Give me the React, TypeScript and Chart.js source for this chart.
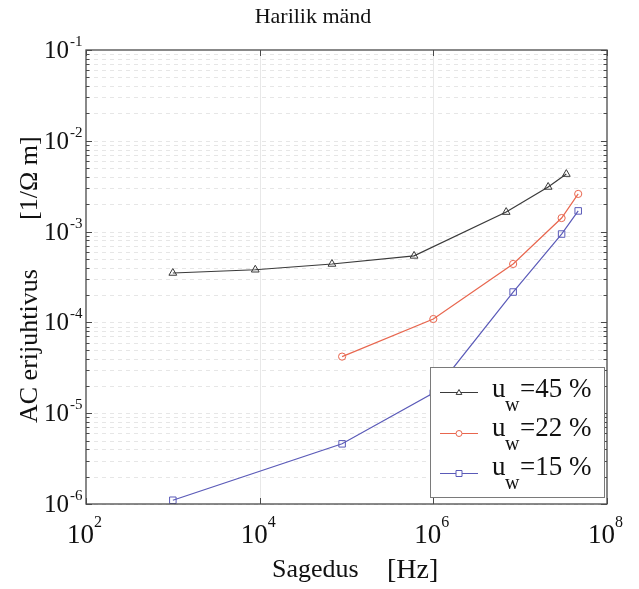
import React, { useEffect, useRef } from "react";
import { Chart, registerables } from "chart.js";

Chart.register(...registerables);

const titleText = "Harilik mänd";
const xTitleMain = "Sagedus";
const xTitleUnit = "[Hz]";
const yTitleMain = "AC erijuhtivus";
const yTitleUnit = "[1/Ω m]";

const freq45 = [1e3, 8.9e3, 6.8e4, 6.0e5, 6.9e6, 2.1e7, 3.4e7];
const cond45 = [3.5e-4, 3.8e-4, 4.4e-4, 5.4e-4, 1.64e-3, 3.1e-3, 4.3e-3];
const freq22 = [8.9e4, 1.0e6, 8.3e6, 3.0e7, 4.66e7];
const cond22 = [4.2e-5, 1.09e-4, 4.4e-4, 1.41e-3, 2.6e-3];
const freq15 = [1e3, 8.9e4, 1.0e6, 8.3e6, 3.0e7, 4.66e7];
const cond15 = [1.1e-6, 4.6e-6, 1.67e-5, 2.16e-4, 9.4e-4, 1.69e-3];

const seriesLabels = ["=45 %", "=22 %", "=15 %"];
const seriesColors = ["#3a3a3a", "#e8664e", "#5a5ab8"];
const seriesMarkers = ["triangle", "circle", "rect"];

const xTickValues = [1e2, 1e4, 1e6, 1e8];
const xTickExps = ["2", "4", "6", "8"];
const yTickValues = [1e-6, 1e-5, 1e-4, 1e-3, 1e-2, 1e-1];
const yTickExps = ["-6", "-5", "-4", "-3", "-2", "-1"];
const minorMultipliers = [2, 3, 4, 5, 6, 7, 8, 9];

const SERIF = '"Liberation Serif", "DejaVu Serif", "Times New Roman", serif';

function toPoints(xs: number[], ys: number[]) {
  return xs.map((x, i) => ({ x, y: ys[i] }));
}

function drawMarker(ctx: CanvasRenderingContext2D, kind: string, x: number, y: number, r: number) {
  ctx.beginPath();
  if (kind === "triangle") {
    ctx.moveTo(x, y - r);
    ctx.lineTo(x + r * 0.95, y + r * 0.65);
    ctx.lineTo(x - r * 0.95, y + r * 0.65);
    ctx.closePath();
  } else if (kind === "circle") {
    ctx.arc(x, y, r, 0, Math.PI * 2);
  } else {
    ctx.rect(x - r, y - r, 2 * r, 2 * r);
  }
  ctx.fillStyle = "#ffffff";
  ctx.fill();
  ctx.stroke();
}

const decorPlugin = {
  id: "decor",
  beforeDatasetsDraw(chart: any) {
    const ctx = chart.ctx as CanvasRenderingContext2D;
    const area = chart.chartArea;
    const xs = chart.scales.x;
    const ys = chart.scales.y;
    ctx.save();
    ctx.lineWidth = 1;
    ctx.strokeStyle = "#e6e6e6";
    ctx.setLineDash([4, 4]);
    for (let i = 0; i < yTickValues.length - 1; i++) {
      const base = yTickValues[i];
      [1, ...minorMultipliers].forEach((m) => {
        const py = Math.round(ys.getPixelForValue(base * m)) + 0.5;
        ctx.beginPath();
        ctx.moveTo(area.left, py);
        ctx.lineTo(area.right, py);
        ctx.stroke();
      });
    }
    ctx.setLineDash([]);
    ctx.strokeStyle = "#e8e8e8";
    xTickValues.slice(1, -1).forEach((v) => {
      const px = Math.round(xs.getPixelForValue(v)) + 0.5;
      ctx.beginPath();
      ctx.moveTo(px, area.top);
      ctx.lineTo(px, area.bottom);
      ctx.stroke();
    });
    ctx.restore();
  },
  afterDatasetsDraw(chart: any) {
    const ctx = chart.ctx as CanvasRenderingContext2D;
    const area = chart.chartArea;
    const xs = chart.scales.x;
    const ys = chart.scales.y;
    ctx.save();

    ctx.strokeStyle = "#4a4a4a";
    ctx.lineWidth = 1.3;
    ctx.strokeRect(area.left, area.top, area.right - area.left, area.bottom - area.top);

    ctx.lineWidth = 1;
    for (let i = 0; i < yTickValues.length; i++) {
      const base = yTickValues[i];
      const mults = i < yTickValues.length - 1 ? [1, ...minorMultipliers] : [1];
      mults.forEach((m) => {
        const py = Math.round(ys.getPixelForValue(base * m)) + 0.5;
        const len = m === 1 ? 6 : 3.5;
        ctx.beginPath();
        ctx.moveTo(area.left, py);
        ctx.lineTo(area.left + len, py);
        ctx.moveTo(area.right, py);
        ctx.lineTo(area.right - len, py);
        ctx.stroke();
      });
    }
    xTickValues.forEach((v) => {
      const px = Math.round(xs.getPixelForValue(v)) + 0.5;
      ctx.beginPath();
      ctx.moveTo(px, area.top);
      ctx.lineTo(px, area.top + 6);
      ctx.moveTo(px, area.bottom);
      ctx.lineTo(px, area.bottom - 6);
      ctx.stroke();
    });

    const lx = 430, ly = 367, lw = 174, lh = 130;
    ctx.fillStyle = "#ffffff";
    ctx.fillRect(lx, ly, lw, lh);
    ctx.strokeStyle = "#7a7a7a";
    ctx.lineWidth = 1;
    ctx.strokeRect(lx + 0.5, ly + 0.5, lw, lh);
    const rowLine = [392, 433, 473];
    const rowBase = [397, 436, 475];
    seriesLabels.forEach((lab, i) => {
      ctx.strokeStyle = seriesColors[i];
      ctx.lineWidth = 1;
      ctx.beginPath();
      ctx.moveTo(440, rowLine[i] + 0.5);
      ctx.lineTo(478, rowLine[i] + 0.5);
      ctx.stroke();
      drawMarker(ctx, seriesMarkers[i], 459, rowLine[i] + 0.5, 3);
      ctx.fillStyle = "#111111";
      ctx.textAlign = "left";
      ctx.textBaseline = "alphabetic";
      ctx.font = `27px ${SERIF}`;
      ctx.fillText("u", 492, rowBase[i]);
      ctx.font = `20px ${SERIF}`;
      ctx.fillText("w", 505, rowBase[i] + 14);
      ctx.font = `27px ${SERIF}`;
      ctx.fillText(lab, 520, rowBase[i]);
    });

    ctx.restore();
  },
  afterDraw(chart: any) {
    const ctx = chart.ctx as CanvasRenderingContext2D;
    const xs = chart.scales.x;
    const ys = chart.scales.y;
    ctx.save();
    ctx.fillStyle = "#111111";
    ctx.textBaseline = "alphabetic";

    yTickValues.forEach((v, i) => {
      const py = ys.getPixelForValue(v);
      ctx.font = `25px ${SERIF}`;
      ctx.textAlign = "right";
      ctx.fillText("10", 69, py + 8);
      ctx.font = `15px ${SERIF}`;
      ctx.textAlign = "left";
      ctx.fillText(yTickExps[i], 70, py - 4);
    });
    xTickValues.forEach((v, i) => {
      const px = xs.getPixelForValue(v);
      ctx.font = `27px ${SERIF}`;
      ctx.textAlign = "right";
      ctx.fillText("10", px + 8, 543);
      ctx.font = `16px ${SERIF}`;
      ctx.textAlign = "left";
      ctx.fillText(xTickExps[i], px + 8, 527);
    });

    ctx.font = `22px ${SERIF}`;
    ctx.textAlign = "center";
    ctx.fillText(titleText, 313, 23);

    ctx.textAlign = "left";
    ctx.font = `26px ${SERIF}`;
    ctx.fillText(xTitleMain, 272, 577);
    ctx.font = `28px ${SERIF}`;
    ctx.fillText(xTitleUnit, 387, 578);

    ctx.font = `26px ${SERIF}`;
    ctx.save();
    ctx.translate(37, 423);
    ctx.rotate(-Math.PI / 2);
    ctx.textAlign = "left";
    ctx.fillText(yTitleMain, 0, 0);
    ctx.restore();
    ctx.save();
    ctx.translate(37, 220);
    ctx.rotate(-Math.PI / 2);
    ctx.textAlign = "left";
    ctx.fillText(yTitleUnit, 0, 0);
    ctx.restore();

    ctx.restore();
  },
};

export default function App() {
  const canvasRef = useRef<HTMLCanvasElement | null>(null);

  useEffect(() => {
    document.body.style.margin = "0";
    const canvas = canvasRef.current;
    if (!canvas) return;
    const pointSizes = [4.5, 3.6, 4.6];
    const sets = [
      toPoints(freq45, cond45),
      toPoints(freq22, cond22),
      toPoints(freq15, cond15),
    ];
    const chart = new Chart(canvas, {
      type: "scatter",
      data: {
        datasets: sets.map((data, i) => ({
          label: seriesLabels[i],
          data,
          showLine: true,
          borderColor: seriesColors[i],
          backgroundColor: "rgba(255,255,255,0)",
          borderWidth: 1.2,
          pointStyle: seriesMarkers[i] as any,
          pointRadius: pointSizes[i],
          pointBorderWidth: 1,
          pointBorderColor: seriesColors[i],
          pointBackgroundColor: "rgba(255,255,255,0)",
          tension: 0,
        })),
      },
      options: {
        responsive: false,
        animation: false,
        events: [],
        layout: { padding: { left: 86, right: 32, top: 50, bottom: 85 } },
        plugins: {
          legend: { display: false },
          title: { display: false },
          tooltip: { enabled: false },
        },
        scales: {
          x: { type: "logarithmic", min: 1e2, max: 1e8, display: false },
          y: { type: "logarithmic", min: 1e-6, max: 1e-1, display: false },
        },
      },
      plugins: [decorPlugin],
    });
    return () => chart.destroy();
  }, []);

  return (
    <div style={{ position: "absolute", left: 0, top: 0, width: 639, height: 589, background: "#ffffff" }}>
      <canvas ref={canvasRef} width={639} height={589} style={{ width: 639, height: 589, display: "block" }} />
    </div>
  );
}
